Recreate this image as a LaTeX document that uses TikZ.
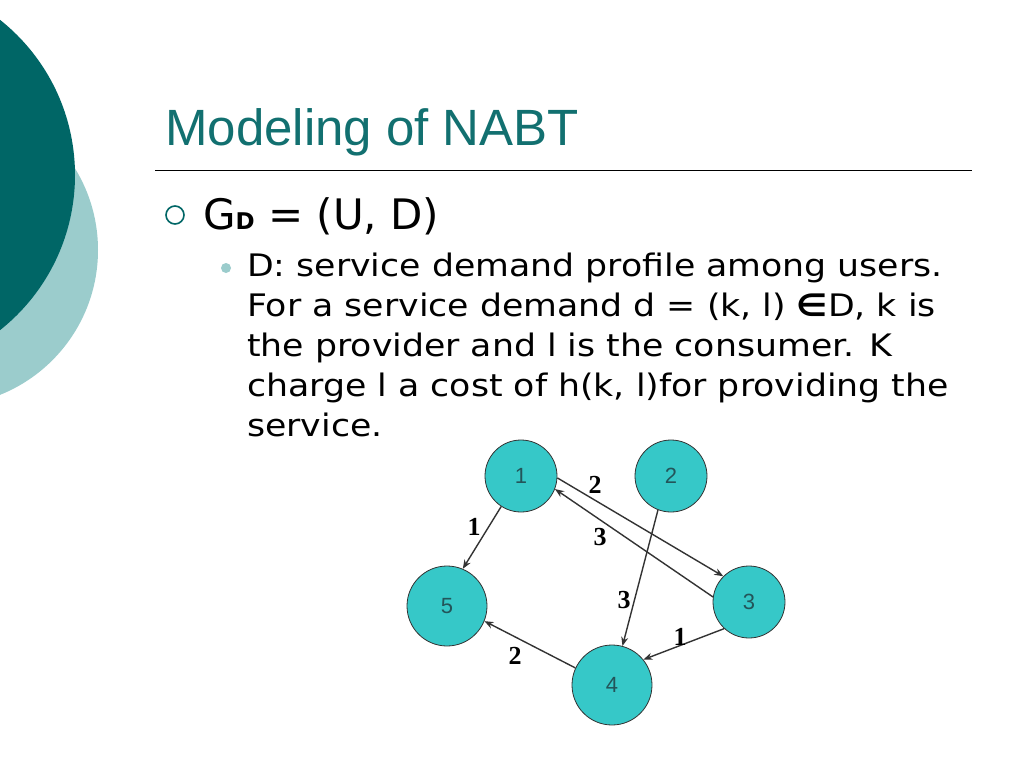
\documentclass[tikz,border=0pt]{standalone}
\usepackage{fontspec}
\setmainfont{DejaVu Sans}
\newfontfamily\bodyfont[FakeStretch=1.12]{DejaVu Sans}
\newfontfamily\titlefont{Liberation Sans}
\newfontfamily\labfont{Liberation Serif}
\usetikzlibrary{arrows.meta}
\definecolor{darkteal}{RGB}{0,102,102}
\definecolor{lightteal}{RGB}{155,204,204}
\definecolor{titleteal}{RGB}{18,112,112}
\definecolor{nodefill}{RGB}{54,200,200}
\definecolor{numcol}{RGB}{35,85,90}
\tikzset{
  gnode/.style={circle,draw=black!80,line width=0.8pt,fill=nodefill,inner sep=0pt,
    font=\titlefont\fontsize{22}{24}\selectfont\color{numcol}},
  small/.style={gnode,minimum size=72pt},
  big/.style={gnode,minimum size=80pt},
  edge/.style={draw=black!80,line width=1.4pt,-{Stealth[length=9pt,width=7pt]}},
  elab/.style={font=\labfont\bfseries\fontsize{26}{28}\selectfont,inner sep=0pt},
  body/.style={anchor=base west,inner sep=0pt,font=\bodyfont\fontsize{31}{40}\selectfont}
}
\begin{document}
\begin{tikzpicture}[x=1pt,y=-1pt]
\useasboundingbox (0,0) rectangle (1024,768);
\clip (0,0) rectangle (1024,768);
\fill[white] (0,0) rectangle (1024,768);
\fill[lightteal] (-58,250) circle (156);
\fill[darkteal] (-123,175) circle (198);
\node[anchor=base west,inner sep=0pt,text=titleteal,font=\titlefont\fontsize{51}{56}\selectfont] (title) at (165,145) {Modeling of NABT};
\draw[black,line width=0.8pt] (155,170) -- (972,170);
\draw[darkteal,line width=1.6pt] (175,215) circle (9);
\node[anchor=base west,inner sep=0pt,font=\fontsize{42}{48}\selectfont] (gd) at (203,229) {G{\fontsize{23}{24}\selectfont\bfseries D} = (U, D)};
\fill[lightteal] (226,268) circle (5);
\node[body] (l1) at (247,276) {D: service demand profile among users.};
\node[body] (l2) at (247,316) {For a service demand d = (k, l) {\bfseries∈}D, k is};
\node[body] (l3) at (247,356) {the provider and l is the consumer. K};
\node[body] (l4) at (247,396) {charge l a cost of h(k, l)for providing the};
\node[body] (l5) at (247,436) {service.};
\node[small] (n1) at (521,476) {1};
\node[small] (n2) at (671,476) {2};
\node[small] (n3) at (749,602) {3};
\node[big] (n5) at (447,606) {5};
\node[big] (n4) at (612,685) {4};
\draw[edge] (n1.-123) -- (n5.67);
\draw[edge] (n1.-3) -- (n3.135);
\draw[edge] (n3.172) -- (n1.-21);
\draw[edge] (n2.-111) -- (n4.75);
\draw[edge] (n3.-133) -- (n4.39);
\draw[edge] (n4.155) -- (n5.-22);
\node[elab] (e15) at (474,527) {1};
\node[elab] (e13) at (595,485) {2};
\node[elab] (e31) at (600,537) {3};
\node[elab] (e24) at (624,600) {3};
\node[elab] (e34) at (680,637) {1};
\node[elab] (e45) at (515,656) {2};
\end{tikzpicture}
\end{document}
